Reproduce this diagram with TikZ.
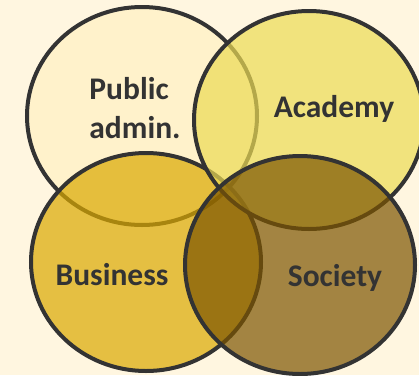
\documentclass[tikz,border=0pt]{standalone}
\usepackage{fontspec}
\setmainfont{Carlito}
\usetikzlibrary{shapes.geometric}

\definecolor{bgcol}{RGB}{255,246,224}
\definecolor{pubcol}{RGB}{255,241,195}
\definecolor{acacol}{RGB}{236,219,84}
\definecolor{buscol}{RGB}{219,168,0}
\definecolor{soccol}{RGB}{124,85,0}
\definecolor{rimcol}{RGB}{51,51,51}
\definecolor{txtcol}{RGB}{51,51,51}

\begin{document}
\begin{tikzpicture}[x=1pt,y=-1pt,
  set/.style={ellipse, draw=rimcol, line width=4pt, fill opacity=0.7, draw opacity=1,
    minimum width=230pt, minimum height=218pt, inner sep=0pt},
  lbl/.style={text=txtcol, font=\fontsize{31.5}{39}\selectfont\bfseries}]

\useasboundingbox (0,0) rectangle (419,375);
\fill[bgcol] (0,0) rectangle (419,375);
\clip (0,0) rectangle (419,375);

% Sets

\node[set, fill=pubcol] (Pub) at (142,116) {};
\node[set, fill=buscol] (Bus) at (146,262) {};
\node[set, fill=acacol] (Aca) at (309,120) {};
\node[set, fill=soccol] (Soc) at (300,265) {};

% Labels

\node[lbl, align=left] (PubT) at (135,108) {Public\\admin.};
\node[lbl, anchor=base] (AcaT) at (334,117) {Academy};
\node[lbl, anchor=base] (BusT) at (112,285) {Business};
\node[lbl, anchor=base] (SocT) at (335,286) {Society};

\end{tikzpicture}
\end{document}
